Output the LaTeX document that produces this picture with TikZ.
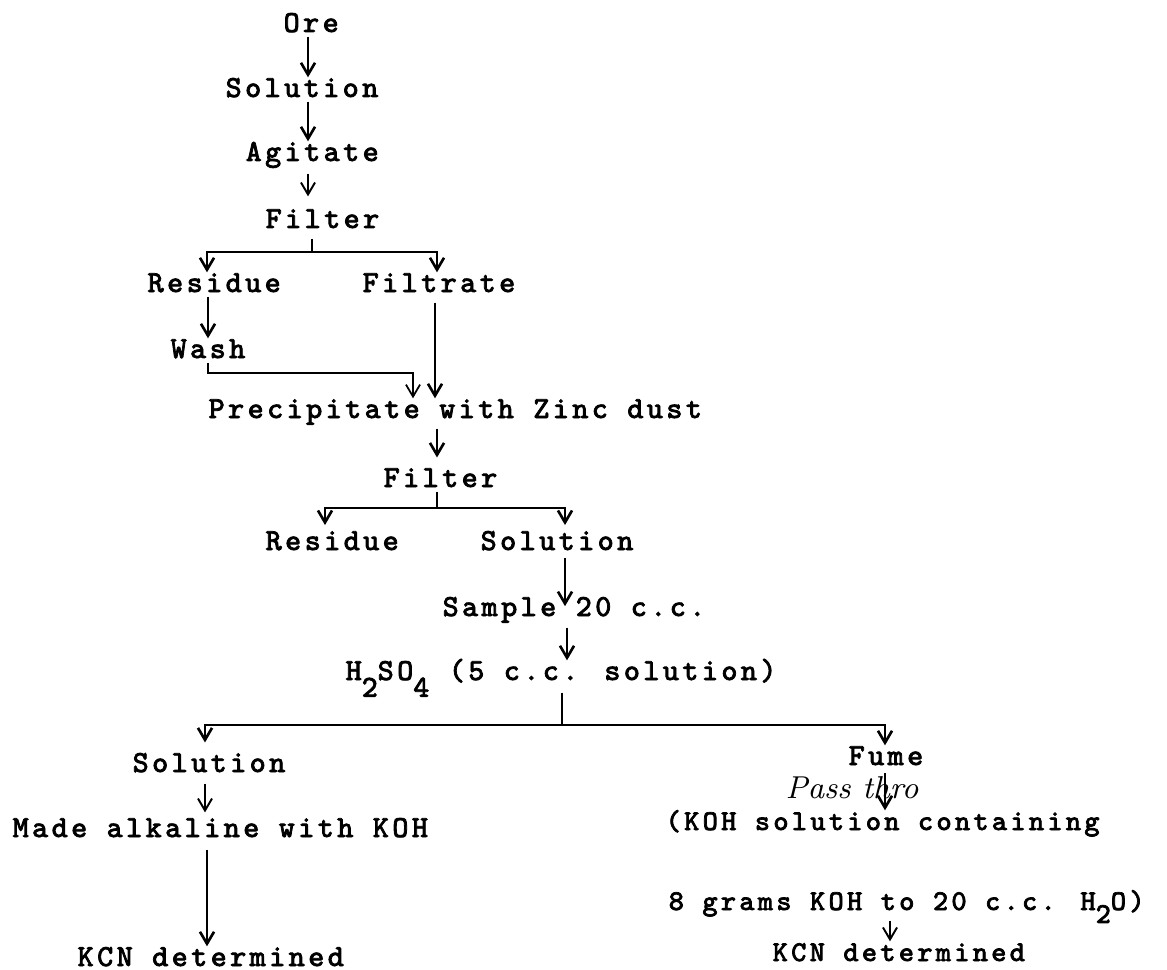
\documentclass[tikz,border=0pt]{standalone}
\usepackage{fontspec}
\newfontfamily\typer[LetterSpace=11.4,FakeBold=2.5]{Latin Modern Mono}
\usetikzlibrary{arrows.meta}

\tikzset{
  typed/.style={font=\typer\fontsize{8.68pt}{10pt}\selectfont, inner sep=0pt,
    text height=5.4pt, text depth=1.1pt, anchor=base west},
  typedsm/.style={typed, font=\typer\fontsize{8.15pt}{10pt}\selectfont},
  flow/.style={line width=0.75pt, -{Straight Barb[length=3.4pt,width=4pt]}},
  link/.style={line width=0.6pt},
  scrawl/.style={font=\itshape\fontsize{9pt}{10pt}\selectfont, inner sep=0pt}
}

\begin{document}
\begin{tikzpicture}[x=0.01cm, y=-0.01cm]
  \useasboundingbox (0,0) rectangle (1167,970);

  % Ore down to first filter
  \node[typed] (ore)   at (283,32)  {Ore};
  \node[typed] (sola)  at (225,97)  {Solution};
  \node[typed] (agit)  at (245,161) {Agitate};
  \node[typed] (filta) at (265,228) {Filter};
  \draw[flow] (ore.south -| 308,0) -- (sola.north -| 308,0);
  \draw[flow] (sola.south -| 308,0) -- (agit.north -| 308,0);
  \draw[flow, line width=0.55pt, shorten <=2.3pt, shorten >=3.4pt] (agit.south -| 308,0) -- (filta.north -| 308,0);

  % First split
  \node[typed] (resa)     at (147,292) {Residue};
  \node[typed] (filtrate) at (362,292) {Filtrate};
  \node[typed] (wash)     at (170,358) {Wash};
  \coordinate (splita) at (312,252);
  \draw[link, shorten <=1.7pt] (filta.south -| splita) -- (splita);
  \draw[flow] (splita) -| (resa.north -| 207,0);
  \draw[flow] (splita) -| (filtrate.north -| 437,0);
  \draw[flow] (resa.south -| 208,0) -- (wash.north -| 208,0);

  % Precipitation
  \node[typed] (precip) at (208,418) {Precipitate with Zinc dust};
  \coordinate (washbend) at (413,373);
  \draw[flow, shorten <=1.7pt] (filtrate.south -| 435,0) -- (precip.north -| 435,0);
  \draw[flow, line width=0.5pt] (wash.south -| 208,0) |- (washbend) -- (precip.north -| washbend);

  % Second filter
  \node[typed] (filtb) at (383,487) {Filter};
  \node[typed] (resb)  at (265,550) {Residue};
  \node[typed] (solb)  at (480,550) {Solution};
  \draw[flow, shorten <=1.7pt, shorten >=2.8pt] (precip.south -| 437,0) -- (filtb.north -| 437,0);
  \coordinate (splitb) at (437,508);
  \draw[link] (filtb.south -| splitb) -- (splitb);
  \draw[flow, shorten >=1.5pt] (splitb) -| (resb.north -| 325,0);
  \draw[flow, shorten >=1.5pt] (splitb) -| (solb.north -| 565,0);

  % Sample and acid
  \node[typed] (sample) at (442,616) {Sample 20 c.c.};
  \node[typed] (acid)   at (345,680) {H\raisebox{-0.55em}{2}SO\raisebox{-0.55em}{4} (5 c.c. solution)};
  \draw[flow, shorten <=1pt, shorten >=-2.8pt] (solb.south -| 565,0) -- (sample.north -| 565,0);
  \draw[flow, shorten <=2pt] (sample.south -| 567,0) -- (acid.north -| 567,0);

  % Third split
  \node[typed] (solc) at (132,772) {Solution};
  \node[typed] (fume) at (848,765) {Fume};
  \coordinate (splitc) at (562,725);
  \draw[link, line width=0.5pt, shorten <=2.3pt] (acid.south -| splitc) -- (splitc);
  \draw[flow, shorten >=2.8pt] (splitc) -| (solc.north -| 205,0);
  \draw[flow] (splitc) -| (fume.north -| 885,0);

  % Left branch
  \node[typed] (alk)  at (12,837) {Made alkaline with KOH};
  \node[typed] (kcna) at (77,966) {KCN determined};
  \draw[flow, line width=0.55pt, shorten <=2pt, shorten >=1.4pt] (solc.south -| 205,0) -- (alk.north -| 205,0);
  \draw[flow, shorten <=2.5pt] (alk.south -| 207,0) -- (kcna.north -| 207,0);

  % Right branch
  \node[scrawl] (pass) at (852,788) {Pass thro};
  \node[typedsm] (koh)   at (665,830) {(KOH solution containing};
  \node[typedsm] (grams) at (668,910) {8 grams KOH to 20 c.c. H\raisebox{-0.45em}{2}O)};
  \node[typedsm] (kcnb)  at (772,961) {KCN determined};
  \draw[flow, shorten <=1.1pt] (fume.south -| 885,0) -- (koh.north -| 885,0);
  \draw[flow, line width=0.55pt, shorten <=1.7pt] (grams.south -| 890,0) -- (kcnb.north -| 890,0);
\end{tikzpicture}
\end{document}
